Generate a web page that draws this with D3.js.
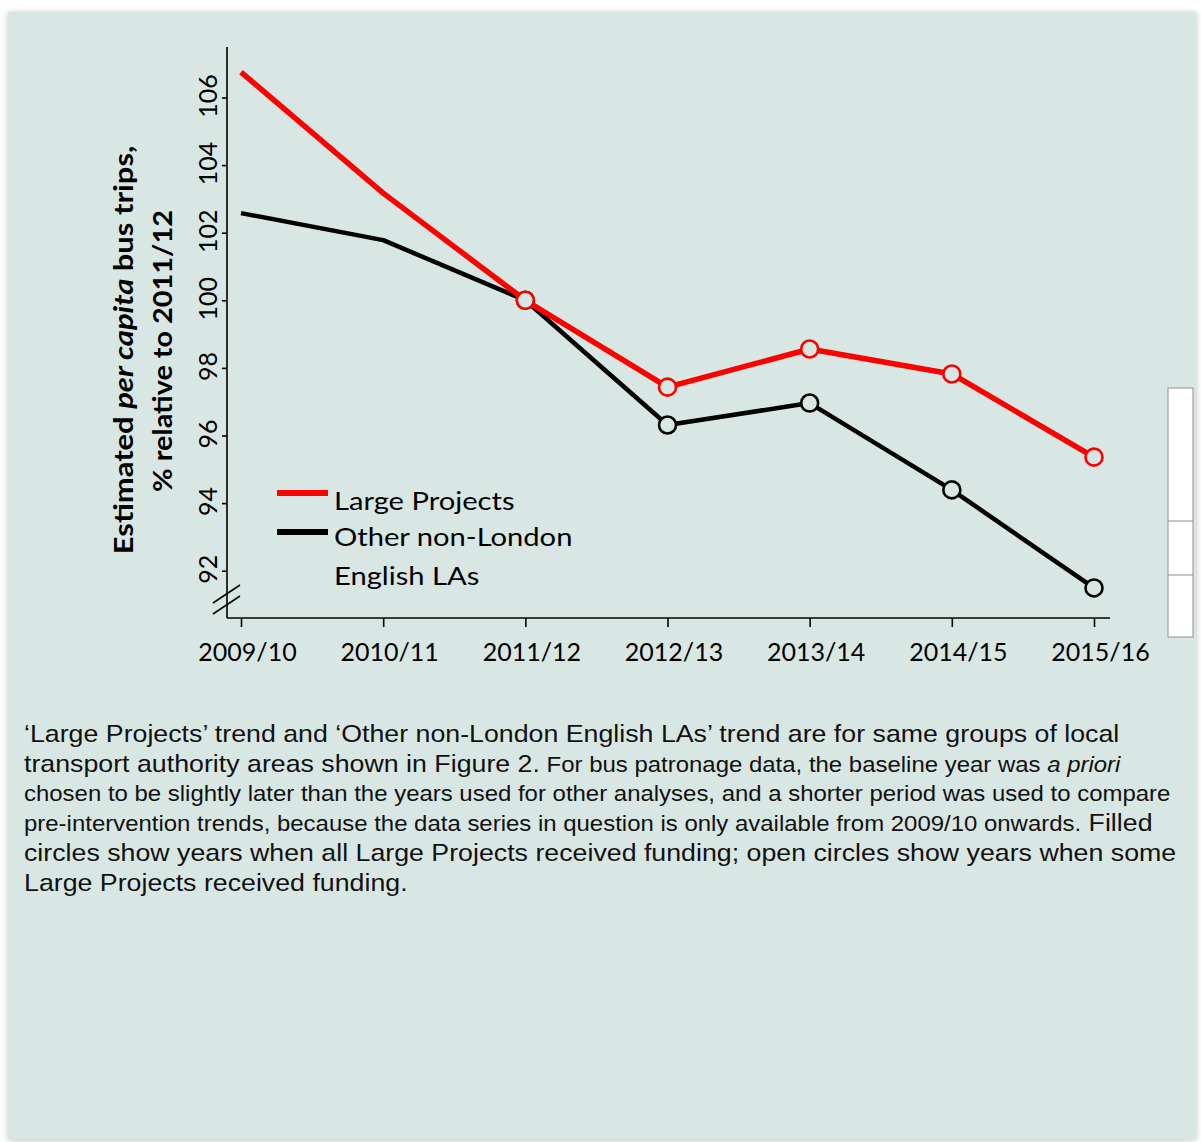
<!DOCTYPE html>
<html>
<head>
<meta charset="utf-8">
<script src="https://cdn.jsdelivr.net/npm/d3@7"></script>
<style>
  body { margin: 0; background: #fff; }
  svg { display: block; }
</style>
</head>
<body>
<svg id="chart" width="1201" height="1142"></svg>
<script>
// data
var years = ["2009/10", "2010/11", "2011/12", "2012/13", "2013/14", "2014/15", "2015/16"];
var largeProjects = [106.75, 103.17, 100.0, 97.43, 98.56, 97.82, 95.36];
var otherLAs = [102.58, 101.78, 100.0, 96.31, 96.96, 94.39, 91.49];
var markedYears = ["2011/12", "2012/13", "2013/14", "2014/15", "2015/16"];
var yTicks = [92, 94, 96, 98, 100, 102, 104, 106];
var legendLabels = [["Large Projects"], ["Other non-London", "English LAs"]];

var bg = "#d9e7e4";
var svg = d3.select("#chart");

// panel with soft shadow
var defs = svg.append("defs");
var f = defs.append("filter").attr("id", "shadow")
    .attr("x", "-5%").attr("y", "-5%").attr("width", "110%").attr("height", "110%");
f.append("feDropShadow").attr("dx", 0).attr("dy", 1).attr("stdDeviation", 3)
    .attr("flood-color", "#000").attr("flood-opacity", 0.25);

svg.append("rect")
    .attr("x", 8).attr("y", 12).attr("width", 1188).attr("height", 1127)
    .attr("fill", bg).attr("filter", "url(#shadow)");

// stray white box at right edge
var box = svg.append("g");
box.append("rect").attr("x", 1168).attr("y", 388).attr("width", 25).attr("height", 249)
    .attr("fill", "#fff").attr("stroke", "#a0a0a0").attr("stroke-width", 1.2);
box.selectAll("line.div").data([521, 575]).enter().append("line")
    .attr("x1", 1168).attr("x2", 1193).attr("y1", function(d) { return d; }).attr("y2", function(d) { return d; })
    .attr("stroke", "#a0a0a0").attr("stroke-width", 1.2);

var x = d3.scalePoint().domain(years).range([241, 1094]);
var y = d3.scaleLinear().domain([92, 106]).range([570.7, 97.5]);

var axisFont = "Lato, 'Open Sans', sans-serif";

// axis lines
svg.append("line").attr("x1", 227).attr("x2", 227).attr("y1", 47).attr("y2", 618)
    .attr("stroke", "#000").attr("stroke-width", 1.6);
svg.append("line").attr("x1", 227).attr("x2", 1110).attr("y1", 618).attr("y2", 618)
    .attr("stroke", "#000").attr("stroke-width", 1.6);

// y axis
var yAxis = svg.append("g")
    .attr("transform", "translate(227,0)")
    .call(d3.axisLeft(y).tickValues(yTicks).tickSize(5).tickFormat(d3.format("d")));
yAxis.select(".domain").remove();
yAxis.selectAll(".tick line").attr("stroke", "#000").attr("stroke-width", 1.6);
yAxis.selectAll(".tick text")
    .attr("x", 0).attr("y", 0).attr("dy", null)
    .attr("transform", "translate(-10,-2) rotate(-90)")
    .attr("text-anchor", "middle")
    .attr("fill", "#000")
    .style("font-family", axisFont).style("font-size", "25px");

// axis break marks
svg.selectAll("line.brk").data([0, 11]).enter().append("line")
    .attr("x1", 213).attr("x2", 240)
    .attr("y1", function(d) { return 603 + d; }).attr("y2", function(d) { return 585 + d; })
    .attr("stroke", "#000").attr("stroke-width", 1.6);

// x axis
var xAxis = svg.append("g")
    .attr("transform", "translate(0,618)")
    .call(d3.axisBottom(x).tickSize(9).tickPadding(16));
xAxis.select(".domain").remove();
xAxis.selectAll(".tick line").attr("stroke", "#000").attr("stroke-width", 1.6);
xAxis.selectAll(".tick text")
    .attr("x", 6)
    .attr("fill", "#000")
    .style("font-family", axisFont).style("font-size", "25px");

// y axis title, two lines
var t1 = svg.append("text")
    .attr("transform", "translate(133,350) rotate(-90) scale(1.19,1)")
    .attr("text-anchor", "middle")
    .style("font-family", axisFont).style("font-size", "26px").style("font-weight", "bold")
    .attr("fill", "#000");
t1.append("tspan").text("Estimated ");
t1.append("tspan").style("font-style", "italic").text("per capita");
t1.append("tspan").text(" bus trips,");
svg.append("text")
    .attr("transform", "translate(172,351) rotate(-90) scale(1.11,1)")
    .attr("text-anchor", "middle")
    .style("font-family", axisFont).style("font-size", "26px").style("font-weight", "bold")
    .attr("fill", "#000")
    .text("% relative to 2011/12");

// lines
var line = d3.line()
    .x(function(d) { return x(d.year); })
    .y(function(d) { return y(d.v); });

var series = [
  { name: "other", values: otherLAs, color: "#000", width: 4.5 },
  { name: "large", values: largeProjects, color: "#ff0000", width: 5.5 }
];

series.forEach(function(s) {
  var pts = years.map(function(yr, i) { return { year: yr, v: s.values[i] }; });
  svg.append("path")
      .datum(pts)
      .attr("fill", "none")
      .attr("stroke", s.color)
      .attr("stroke-width", s.width)
      .attr("stroke-linejoin", "round")
      .attr("d", line);
  svg.selectAll("circle." + s.name)
      .data(pts.filter(function(d) { return markedYears.indexOf(d.year) >= 0; }))
      .enter().append("circle")
      .attr("class", s.name)
      .attr("cx", function(d) { return x(d.year); })
      .attr("cy", function(d) { return y(d.v); })
      .attr("r", 8.5)
      .attr("fill", bg)
      .attr("stroke", s.color)
      .attr("stroke-width", 2.6);
});

// legend
var legend = svg.append("g").style("font-family", axisFont).style("font-size", "24.5px");
var legColors = ["#ff0000", "#000"];
var legY = [493, 532];
legendLabels.forEach(function(lbl, i) {
  legend.append("line").attr("x1", 277).attr("x2", 328).attr("y1", legY[i]).attr("y2", legY[i])
      .attr("stroke", legColors[i]).attr("stroke-width", 6);
  lbl.forEach(function(txt, j) {
    legend.append("text")
        .attr("transform", "translate(334," + (legY[i] + 17 - i * 3 + j * 39) + ") scale(1.19,1)")
        .attr("fill", "#000")
        .text(txt);
  });
});

// caption
var big = "24px", small = "21.5px";
function ln(yPos, parts) {
  var t = svg.append("text")
      .attr("transform", "translate(24," + yPos + ") scale(1.115,1)")
      .style("font-family", "'Liberation Sans', Arial, sans-serif")
      .attr("fill", "#111");
  parts.forEach(function(p) {
    var s = t.append("tspan").style("font-size", p[1]).text(p[0]);
    if (p[2]) s.style("font-style", "italic");
  });
}
ln(742, [["\u2018Large Projects\u2019 trend and \u2018Other non-London English LAs\u2019 trend are for same groups of local", big]]);
ln(772, [["transport authority areas shown in Figure 2.", big], [" For bus patronage data, the baseline year was ", small], ["a priori", small, true]]);
ln(801, [["chosen to be slightly later than the years used for other analyses, and a shorter period was used to compare", small]]);
ln(831, [["pre-intervention trends, because the data series in question is only available from 2009/10 onwards.", small], [" Filled", big]]);
ln(861, [["circles show years when all Large Projects received funding; open circles show years when some", big]]);
ln(891, [["Large Projects received funding.", big]]);
</script>
</body>
</html>
